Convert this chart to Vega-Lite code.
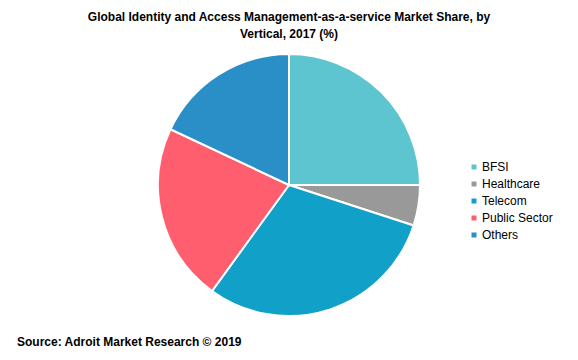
{
  "$schema": "https://vega.github.io/schema/vega-lite/v6.json",
  "width": 578,
  "height": 350,
  "autosize": {"type": "none"},
  "padding": {"top": 10, "left": 0, "right": 0, "bottom": 0},
  "background": "white",
  "title": {
    "text": ["Global Identity and Access Management-as-a-service Market Share, by", "Vertical, 2017 (%)"],
    "font": "Liberation Sans",
    "fontSize": 12,
    "fontWeight": "bold",
    "color": "#000000",
    "lineHeight": 17,
    "anchor": "middle",
    "frame": "group",
    "offset": -31
  },
  "config": {"view": {"stroke": null}},
  "layer": [
    {
      "data": {
        "values": [
          {"vertical": "BFSI", "share": 25, "idx": 1},
          {"vertical": "Healthcare", "share": 5, "idx": 2},
          {"vertical": "Telecom", "share": 30, "idx": 3},
          {"vertical": "Public Sector", "share": 22, "idx": 4},
          {"vertical": "Others", "share": 18, "idx": 5}
        ]
      },
      "mark": {"type": "arc", "outerRadius": 131, "stroke": "white", "strokeWidth": 2},
      "encoding": {
        "theta": {"field": "share", "type": "quantitative", "stack": true},
        "order": {"field": "idx", "type": "quantitative"},
        "color": {
          "field": "vertical",
          "type": "nominal",
          "sort": ["BFSI", "Healthcare", "Telecom", "Public Sector", "Others"],
          "scale": {
            "domain": ["BFSI", "Healthcare", "Telecom", "Public Sector", "Others"],
            "range": ["#5DC5CF", "#999999", "#11A0C8", "#FF5E6F", "#2A8FC6"]
          },
          "legend": {
            "title": null,
            "orient": "none",
            "legendX": 468,
            "legendY": 151,
            "symbolType": "square",
            "symbolSize": 25,
            "symbolStrokeWidth": 0,
            "labelFont": "Liberation Sans",
            "labelFontSize": 12,
            "labelColor": "#000000",
            "labelOffset": 2,
            "rowPadding": 5
          }
        }
      }
    },
    {
      "data": {"values": [{"caption": "Source: Adroit  Market Research © 2019"}]},
      "mark": {"type": "text", "font": "Liberation Sans", "fontSize": 12, "fontWeight": "bold", "align": "left", "baseline": "alphabetic", "color": "#000000"},
      "encoding": {
        "text": {"field": "caption"},
        "x": {"value": 17},
        "y": {"value": 336}
      }
    }
  ]
}
